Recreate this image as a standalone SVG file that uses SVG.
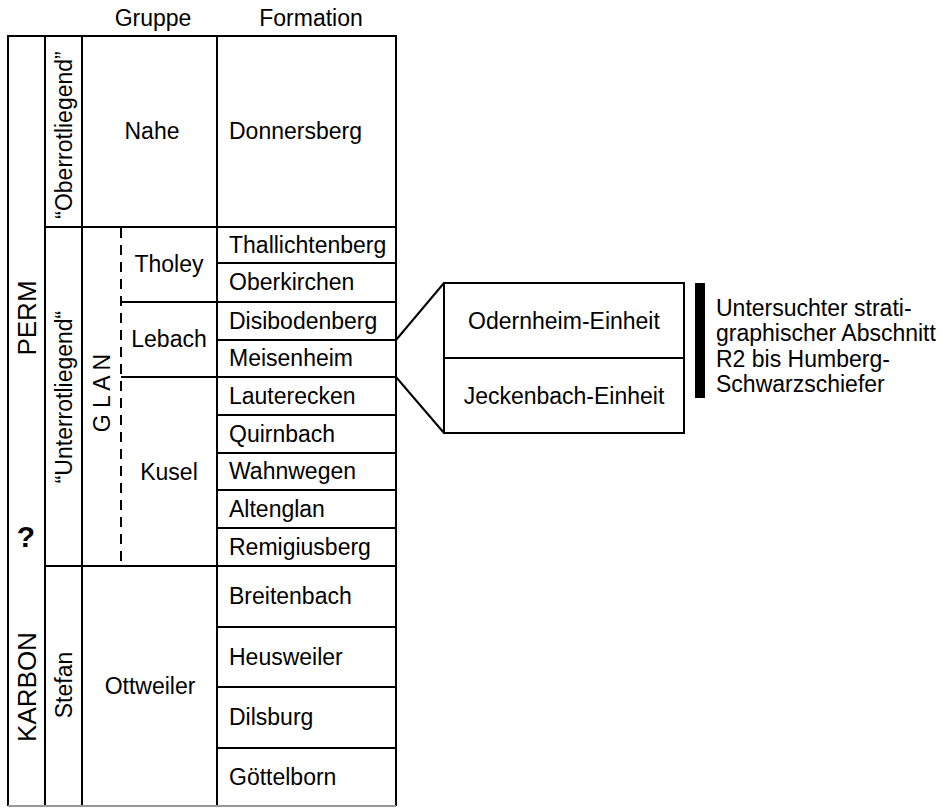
<svg xmlns="http://www.w3.org/2000/svg" width="946" height="808" viewBox="0 0 946 808">
<style>
.ln{stroke:#000;stroke-width:2;fill:none}
.dl{stroke:#000;stroke-width:2;fill:none;stroke-dasharray:10 7}
.t{font-family:"Liberation Sans",Arial,Helvetica,sans-serif;font-size:23px;fill:#000}
.m{text-anchor:middle}
.big{font-size:26px}
</style>
<rect width="946" height="808" fill="#fff"/>
<g id="headers">
<text class="t m" x="153" y="26">Gruppe</text>
<text class="t m" x="311" y="26">Formation</text>
</g>
<g id="table-grid">
<line class="ln" x1="8" y1="36" x2="396" y2="36"/>
<line class="ln" x1="8" y1="35" x2="8" y2="806"/>
<line class="ln" x1="45" y1="36" x2="45" y2="806"/>
<line class="ln" x1="82" y1="36" x2="82" y2="806"/>
<line class="ln" x1="217" y1="36" x2="217" y2="806"/>
<line class="ln" x1="396" y1="35" x2="396" y2="806"/>
<line class="ln" x1="45" y1="227" x2="396" y2="227"/>
<line class="ln" x1="217" y1="263" x2="396" y2="263"/>
<line class="ln" x1="121" y1="302" x2="396" y2="302"/>
<line class="ln" x1="217" y1="340" x2="396" y2="340"/>
<line class="ln" x1="121" y1="377" x2="396" y2="377"/>
<line class="ln" x1="217" y1="415" x2="396" y2="415"/>
<line class="ln" x1="217" y1="453" x2="396" y2="453"/>
<line class="ln" x1="217" y1="490" x2="396" y2="490"/>
<line class="ln" x1="217" y1="528" x2="396" y2="528"/>
<line class="ln" x1="45" y1="566" x2="396" y2="566"/>
<line class="ln" x1="217" y1="627" x2="396" y2="627"/>
<line class="ln" x1="217" y1="687" x2="396" y2="687"/>
<line class="ln" x1="217" y1="748" x2="396" y2="748"/>
<line x1="8" y1="806" x2="396" y2="806" stroke="#999" stroke-width="2"/>
<line class="dl" x1="121" y1="228" x2="121" y2="566"/>
</g>
<g id="period-perm"><text class="t m big" transform="translate(36,318) rotate(-90)">PERM</text></g>
<g id="period-unknown"><text class="t m" x="26" y="547" style="font-size:30px;font-weight:bold">?</text></g>
<g id="period-karbon"><text class="t m big" transform="translate(36,687) rotate(-90)">KARBON</text></g>
<g id="series-oberrotliegend"><text class="t m" transform="translate(72,135) rotate(-90)">“Oberrotliegend”</text></g>
<g id="series-unterrotliegend"><text class="t m" transform="translate(72,397) rotate(-90)">“Unterrotliegend“</text></g>
<g id="series-stefan"><text class="t m" transform="translate(72,685) rotate(-90)">Stefan</text></g>
<g id="supergroup-glan"><text class="t m" transform="translate(110,393) rotate(-90)">G L A N</text></g>
<g id="group-nahe"><text class="t m" x="152" y="139">Nahe</text></g>
<g id="group-tholey"><text class="t m" x="169" y="272">Tholey</text></g>
<g id="group-lebach"><text class="t m" x="169" y="347">Lebach</text></g>
<g id="group-kusel"><text class="t m" x="169" y="480">Kusel</text></g>
<g id="group-ottweiler"><text class="t m" x="150" y="694">Ottweiler</text></g>
<g id="formations">
<g id="f-donnersberg"><text class="t" x="229" y="139">Donnersberg</text></g>
<g id="f-thallichtenberg"><text class="t" x="229" y="253">Thallichtenberg</text></g>
<g id="f-oberkirchen"><text class="t" x="229" y="290">Oberkirchen</text></g>
<g id="f-disibodenberg"><text class="t" x="229" y="329">Disibodenberg</text></g>
<g id="f-meisenheim"><text class="t" x="229" y="366">Meisenheim</text></g>
<g id="f-lauterecken"><text class="t" x="229" y="404">Lauterecken</text></g>
<g id="f-quirnbach"><text class="t" x="229" y="442">Quirnbach</text></g>
<g id="f-wahnwegen"><text class="t" x="229" y="479">Wahnwegen</text></g>
<g id="f-altenglan"><text class="t" x="229" y="517">Altenglan</text></g>
<g id="f-remigiusberg"><text class="t" x="229" y="555">Remigiusberg</text></g>
<g id="f-breitenbach"><text class="t" x="229" y="604">Breitenbach</text></g>
<g id="f-heusweiler"><text class="t" x="229" y="665">Heusweiler</text></g>
<g id="f-dilsburg"><text class="t" x="229" y="725">Dilsburg</text></g>
<g id="f-goettelborn"><text class="t" x="229" y="785">Göttelborn</text></g>
</g>
<g id="connectors">
<line class="ln" x1="396" y1="340" x2="444" y2="283"/>
<line class="ln" x1="396" y1="377" x2="444" y2="433"/>
</g>
<g id="unit-odernheim">
<rect class="ln" x="444" y="283" width="240" height="75"/>
<text class="t m" x="564" y="329">Odernheim-Einheit</text>
</g>
<g id="unit-jeckenbach">
<rect class="ln" x="444" y="358" width="240" height="75"/>
<text class="t m" x="564" y="404">Jeckenbach-Einheit</text>
</g>
<g id="legend">
<rect x="695" y="283" width="10" height="115" fill="#000"/>
<text class="t" x="716" y="316">Untersuchter strati-</text>
<text class="t" x="716" y="341">graphischer Abschnitt</text>
<text class="t" x="716" y="367">R2 bis Humberg-</text>
<text class="t" x="716" y="392">Schwarzschiefer</text>
</g>
</svg>
